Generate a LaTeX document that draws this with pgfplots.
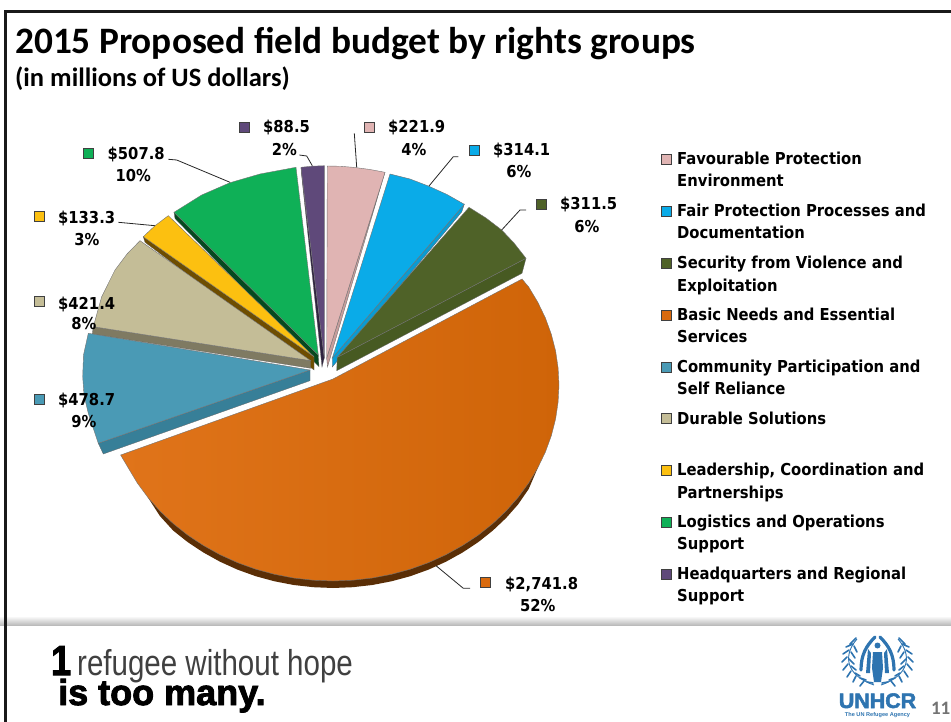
\documentclass[border=0pt]{standalone}
\usepackage{fontspec}
\usepackage{graphicx}
\usepackage{pgfplots}
\pgfplotsset{compat=1.18}
\newfontfamily\carlito{Carlito}[BoldFont={Carlito Bold}]
\newfontfamily\tah{DejaVu Sans Condensed Bold}
\newfontfamily\libr{Liberation Sans}
\newfontfamily\heavy{Liberation Sans Bold}[FakeBold=2.5]
\definecolor{cPink}{HTML}{E0B4B3}\definecolor{cPinkS}{HTML}{C79D9C}
\definecolor{cBlue}{HTML}{0AABE8}\definecolor{cBlueS}{HTML}{0A9BD2}
\definecolor{cOlive}{HTML}{4F6228}\definecolor{cOliveS}{HTML}{475A22}
\definecolor{cOrange}{HTML}{D96A0E}\definecolor{cOrangeS}{HTML}{5A2E06}
\definecolor{cOrangeL}{HTML}{E0741A}\definecolor{cOrangeR}{HTML}{CF6408}
\definecolor{cTeal}{HTML}{4A9AB5}\definecolor{cTealS}{HTML}{377F98}
\definecolor{cBeige}{HTML}{C4BD97}\definecolor{cBeigeS}{HTML}{7F7A62}
\definecolor{cYellow}{HTML}{FCC010}\definecolor{cYellowS}{HTML}{6E4D00}
\definecolor{cGreen}{HTML}{0FB057}\definecolor{cGreenS}{HTML}{06491F}
\definecolor{cPurple}{HTML}{5F497A}\definecolor{cPurpleS}{HTML}{2F2340}
\definecolor{unBlue}{HTML}{2E74B0}
\newcommand\amount[3]{\node[anchor=base west,inner sep=0pt] at (#1,#2) {\tah\fontsize{16.4}{18}\selectfont #3};}
\newcommand\share[3]{\node[anchor=base,inner sep=0pt] at (#1,#2) {\tah\fontsize{16.4}{18}\selectfont #3};}
\newcommand\keyline[2]{\node[anchor=base west,inner sep=0pt] at (677,#1) {\tah\fontsize{16.45}{18}\selectfont #2};}
\pgfplotsset{
  face/.style={fill=#1,draw=black!55,line width=0.4pt},
  flank/.style={fill=#1,draw=black!60,line width=0.3pt},
  lead/.style={draw=black!85,line width=0.8pt},
  swatch/.style={only marks,mark=square*,mark size=5pt,
    mark options={fill=#1,draw=black!75,line width=0.8pt}},
}
\begin{document}
\begin{tikzpicture}
\path[use as bounding box] (0,0) rectangle (951pt,722pt);
\begin{axis}[hide axis,scale only axis,width=951pt,height=722pt,
  xmin=0,xmax=951,ymin=0,ymax=722,y dir=reverse,clip=true]

% footer band and slide frame
\addplot[draw=none,top color=white,bottom color=black!28] coordinates {(0,616)(951,616)(951,625.5)(0,625.5)} --cycle;
\addplot[draw=black!90,line width=3pt] coordinates {(951,11.5)(5.5,11.5)(5.5,722)};

% purple: headquarters
\addplot[flank=cPurpleS] coordinates {(301,167.3)(301.5,174)(322,367)(324.3,358)} --cycle;
\addplot[face=cPurple] coordinates {(324.3,358)(301,167.3)(312,166.2)(324.3,165.7)} --cycle;
% pink: favourable protection
\addplot[flank=cPinkS] coordinates {(385,172.3)(383,179)(327.5,367)(326.7,358)} --cycle;
\addplot[face=cPink] coordinates {(326.7,358)(327.3,166)(341,166.3)(355,167.5)(370,169.5)(385,172.3)} --cycle;
% blue: fair protection
\addplot[flank=cBlueS] coordinates {(464.3,204.3)(461.7,212)(332.3,367)(332.3,358)} --cycle;
\addplot[face=cBlue] coordinates {(332.3,358)(390,174)(410,179)(428.3,186)(447,194.5)(464.3,204.3)} --cycle;
% olive: security
\addplot[flank=cOliveS] coordinates {(526,258.3)(522,273.3)(336.7,370.7)(337.3,357.3)} --cycle;
\addplot[face=cOlive] coordinates {(337.3,357.3)(469,207.3)(486,218)(501.7,230)(514,243)(526,258.3)} --cycle;
% green: logistics
\addplot[flank=cGreenS] coordinates {(174,212.3)(175,218.5)(319,366.7)(318.3,355)} --cycle;
\addplot[face=cGreen] coordinates {(318.3,355)(174,212.3)(201.7,195)(230,182.7)(260,174)(296,167.3)} --cycle;
% yellow: leadership
\addplot[flank=cYellowS] coordinates {(143.3,236.7)(145,242.3)(314,370)(314,356.7)} --cycle;
\addplot[face=cYellow] coordinates {(314,356.7)(143.3,236.7)(155,225.7)(168.3,215.7)} --cycle;
% beige: durable solutions
\addplot[flank=cBeigeS] coordinates {(93.3,326.7)(92.3,334)(310.7,368.3)(310.7,360.7)} --cycle;
\addplot[face=cBeige] coordinates {(310.7,360.7)(140,240.7)(127,254)(115,270)(101.7,296.7)(93.3,326.7)} --cycle;
% teal: community participation
\addplot[flank=cTealS] coordinates {(98.3,443.3)(103.3,454)(310,380.7)(310,370)} --cycle;
\addplot[face=cTeal] coordinates {(310,370)(88.3,333.3)(83.5,355)(82.7,376.7)(84,395)(88.3,413.3)(98.3,443.3)} --cycle;
% orange: basic needs, rim first and then the top face
\addplot[fill=cOrangeS,draw=none] coordinates {
  (537.8,467.8)(528.7,489)(518.1,504.4)(506.1,518)(492.8,530.6)(478.3,542.1)(462.6,552.5)
  (446,561.7)(428.6,569.6)(410.3,576.2)(391.5,581.3)(372.3,585)(352.7,587.2)(333,588)(313.3,587.2)
  (293.7,585)(274.5,581.3)(255.7,576.2)(237.4,569.6)(220,561.7)(203.4,552.5)(187.7,542.1)(173.2,530.6)
  (159.9,516)(147.9,497.4)} --cycle;
\addplot[left color=cOrangeL,right color=cOrangeR,draw=black!55,line width=0.4pt] coordinates {
  (522,279)(528.7,287)(537.8,302.2)(545.4,318)(551.3,334.2)(555.6,350.9)(558.1,367.9)(559,385)
  (558.1,402.1)(555.6,419)(551.3,435.8)(545.4,452)(537.8,467.8)(528.7,483)(518.1,497.4)(506.1,511)
  (492.8,523.6)(478.3,535.1)(462.6,545.5)(446,554.7)(428.6,562.6)(410.3,569.2)(391.5,574.3)(372.3,578)
  (352.7,580.2)(333,581)(313.3,580.2)(293.7,578)(274.5,574.3)(255.7,569.2)(237.4,562.6)(220,554.7)
  (203.4,545.5)(187.7,535.1)(173.2,523.6)(159.9,511)(147.9,497.4)(137.3,483)(128.2,467.8)(120.6,455)
  (333,379)} --cycle;

% leader lines
\addplot[lead] coordinates {(168.3,159.3)(176.7,160)(230,182.3)};
\addplot[lead] coordinates {(118.3,222.3)(155,225.7)};
\addplot[lead] coordinates {(299.3,155)(306.7,156)(312.3,165.7)};
\addplot[lead] coordinates {(354.3,133.3)(356.7,167.3)};
\addplot[lead] coordinates {(458.3,156.7)(453.3,156.7)(429,186)};
\addplot[lead] coordinates {(526,210)(520,210)(501.7,230)};
\addplot[lead] coordinates {(470,588.3)(463.3,588.3)(436,565.7)};

% colour keys beside the amounts and in the legend column
\addplot[swatch=cPurple] coordinates {(244,127)(666.5,574)};
\addplot[swatch=cPink]   coordinates {(369,127.3)(666.5,159.3)};
\addplot[swatch=cBlue]   coordinates {(474,150)(666.5,211.5)};
\addplot[swatch=cOlive]  coordinates {(541,204.3)(666.5,263.5)};
\addplot[swatch=cGreen]  coordinates {(88.3,153.3)(666.5,522)};
\addplot[swatch=cYellow] coordinates {(39,216)(666.5,470)};
\addplot[swatch=cBeige]  coordinates {(39,301)(666.5,418)};
\addplot[swatch=cTeal]   coordinates {(39,399)(666.5,367)};
\addplot[swatch=cOrange] coordinates {(485,582.3)(666.5,315)};

% amounts and shares
\amount{263}{133}{\$88.5}   \share{284.5}{156}{2\%}
\amount{388}{133}{\$221.9}  \share{414}{155.5}{4\%}
\amount{493}{156}{\$314.1}  \share{519}{178}{6\%}
\amount{560}{210}{\$311.5}  \share{587}{232.5}{6\%}
\amount{107.5}{160}{\$507.8} \share{133.3}{182}{10\%}
\amount{58}{224}{\$133.3}   \share{87}{245.5}{3\%}
\amount{58}{309}{\$421.4}   \share{84}{329.5}{8\%}
\amount{58}{405}{\$478.7}   \share{84}{427.5}{9\%}
\amount{505}{589}{\$2,741.8} \share{537.7}{611}{52\%}

% legend text
\keyline{165}{Favourable Protection}
\keyline{187}{Environment}
\keyline{217}{Fair Protection Processes and}
\keyline{239}{Documentation}
\keyline{269}{Security from Violence and}
\keyline{291}{Exploitation}
\keyline{320.5}{Basic Needs and Essential}
\keyline{342.5}{Services}
\keyline{372.5}{Community Participation and}
\keyline{394.5}{Self Reliance}
\keyline{424}{Durable Solutions}
\keyline{475.5}{Leadership, Coordination and}
\keyline{498}{Partnerships}
\keyline{527.5}{Logistics and Operations}
\keyline{549.5}{Support}
\keyline{579.5}{Headquarters and Regional}
\keyline{601.5}{Support}

% headings
\node[anchor=base west,inner sep=0pt] at (15,54) {\carlito\bfseries\fontsize{37.3}{40}\selectfont 2015 Proposed field budget by rights groups};
\node[anchor=base west,inner sep=0pt] at (15,87) {\carlito\bfseries\fontsize{26.5}{28}\selectfont (in millions of US dollars)};

% slogan
\node[anchor=base west,inner sep=0pt] at (51,675) {\heavy\fontsize{42}{44}\selectfont\scalebox{0.85}[1]{1}};
\node[anchor=base west,inner sep=0pt,text=black!75] at (77,675) {\libr\fontsize{36}{40}\selectfont\scalebox{0.82}[1]{refugee without hope}};
\node[anchor=base west,inner sep=0pt] at (58,705) {\heavy\fontsize{36}{40}\selectfont is too many.};

% emblem: arms, figures and wreath
\draw[unBlue,line width=3.2pt,line cap=round] (875,637) .. controls (866,646) and (861,655) .. (861,670);
\draw[unBlue,line width=3.2pt,line cap=round] (880,637) .. controls (889,646) and (894,655) .. (894,670);
\fill[unBlue] (877.5,645.5) circle[radius=3pt];
\fill[unBlue] (873,652) -- (882,652) -- (883,668) -- (881,682) -- (874,682) -- (872,668) -- cycle;
\fill[unBlue] (868,649) -- (871,653) -- (870,673) -- (866,673) -- cycle;
\fill[unBlue] (887,649) -- (884,653) -- (885,673) -- (889,673) -- cycle;
\draw[unBlue,line width=0.9pt] (857,639) .. controls (843,655) and (845,675) .. (874,685);
\draw[unBlue,line width=0.9pt] (898,639) .. controls (912,655) and (910,675) .. (881,685);
\addplot[draw=unBlue,line width=1.6pt,line cap=round,unbounded coords=jump] coordinates {
  (856,638)(850,644)(nan,nan)(853,644)(846,647)(nan,nan)(854,646)(857,652)(nan,nan)(849,650)(843,654)(nan,nan)
  (851,652)(855,658)(nan,nan)(847,657)(842,662)(nan,nan)(849,659)(854,664)(nan,nan)(848,664)(843,670)(nan,nan)
  (851,666)(856,670)(nan,nan)(851,671)(847,677)(nan,nan)(855,673)(860,676)(nan,nan)(856,676)(853,682)(nan,nan)
  (860,678)(866,680)(nan,nan)(864,681)(860,686)(nan,nan)(867,682)(873,683)(nan,nan)
  (899,638)(905,644)(nan,nan)(902,644)(909,647)(nan,nan)(901,646)(898,652)(nan,nan)(906,650)(912,654)(nan,nan)
  (904,652)(900,658)(nan,nan)(908,657)(913,662)(nan,nan)(906,659)(901,664)(nan,nan)(907,664)(912,670)(nan,nan)
  (904,666)(899,670)(nan,nan)(904,671)(908,677)(nan,nan)(900,673)(895,676)(nan,nan)(899,676)(902,682)(nan,nan)
  (895,678)(889,680)(nan,nan)(891,681)(895,686)(nan,nan)(888,682)(882,683)};
\node[anchor=base,inner sep=0pt,text=unBlue] at (877.5,708) {\heavy\fontsize{21}{22}\selectfont\scalebox{1.02}[1]{UNHCR}};
\node[anchor=base,inner sep=0pt,text=unBlue] at (877.5,716) {\libr\bfseries\fontsize{5.6}{6}\selectfont The UN Refugee Agency};
\node[anchor=base east,inner sep=0pt,text=black!55] at (950.5,714) {\carlito\bfseries\fontsize{19}{20}\selectfont 11};
\end{axis}
\end{tikzpicture}
\end{document}
